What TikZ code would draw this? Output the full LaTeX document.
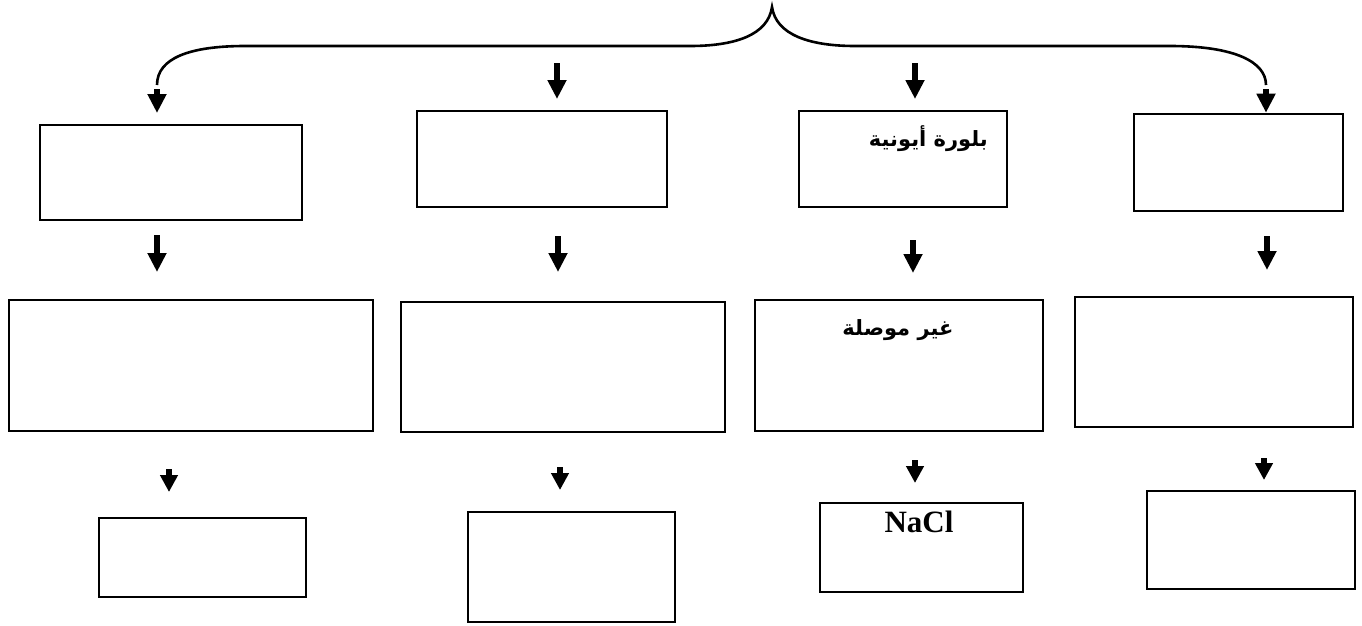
\documentclass[tikz,border=0pt]{standalone}
\usepackage{fontspec}
\setmainfont{Liberation Serif}
\newfontfamily\arabicfont[Script=Arabic]{DejaVu Sans}
\TeXXeTstate=1
\usetikzlibrary{arrows.meta}

\tikzset{
  box/.style={draw=black, line width=2.6pt, fill=white, inner sep=0pt},
  arr/.style={line width=6pt, -{Triangle[length=19pt,width=18pt]}},
  smallarr/.style={line width=6pt, -{Triangle[length=17pt,width=17pt]}},
  bracepath/.style={line width=2.6pt},
  arlabel/.style={font=\arabicfont\bfseries\fontsize{21}{25}\selectfont, inner sep=0pt},
  latlabel/.style={font=\bfseries\fontsize{31}{35}\selectfont, inner sep=0pt}
}

\begin{document}
\begin{tikzpicture}[x=1pt,y=-1pt]
\useasboundingbox (0,0) rectangle (1362,625);

% first row
\node[box, minimum width=262pt, minimum height=95pt] (a1) at (171,172.5) {};
\node[box, minimum width=250pt, minimum height=96pt] (b1) at (542,159) {};
\node[box, minimum width=208pt, minimum height=96pt] (c1) at (903,159) {};
\node[box, minimum width=209pt, minimum height=97pt] (d1) at (1238.5,162.5) {};

% second row
\node[box, minimum width=364pt, minimum height=131pt] (a2) at (191,365.5) {};
\node[box, minimum width=324pt, minimum height=130pt] (b2) at (563,367) {};
\node[box, minimum width=288pt, minimum height=131pt] (c2) at (899,365.5) {};
\node[box, minimum width=278pt, minimum height=130pt] (d2) at (1214,362) {};

% third row
\node[box, minimum width=207pt, minimum height=79pt] (a3) at (202.5,557.5) {};
\node[box, minimum width=207pt, minimum height=110pt] (b3) at (571.5,567) {};
\node[box, minimum width=203pt, minimum height=89pt] (c3) at (921.5,547.5) {};
\node[box, minimum width=208pt, minimum height=98pt] (d3) at (1251,540) {};

% texts
\node[arlabel, anchor=east] (ionic) at (988,139) {\beginR بلورة أيونية\endR};
\node[arlabel] (noncond) at (898,330) {\beginR غير موصلة\endR};
\node[latlabel] (nacl) at (919,522) {NaCl};

% brace
\coordinate (tip) at (772,7);
\coordinate (lend) at (157,85);
\coordinate (rend) at (1266,85);
\draw[bracepath] (lend) .. controls (157,58) and (190,46) .. (245,46) -- (690,46)
  .. controls (735,46) and (768,35) .. (tip)
  .. controls (776,35) and (810,46) .. (855,46) -- (1170,46)
  .. controls (1235,46) and (1266,62) .. (rend);

% arrows under the brace
\coordinate (la) at (157,89);
\coordinate (ra) at (1266,89);
\coordinate (bb) at (557,63);
\coordinate (cb) at (915,63);
\draw[arr] (la) -- (157,113);
\draw[arr] (bb) -- (557,99);
\draw[arr] (cb) -- (915,99);
\draw[arr] (ra) -- (ra |- d1.north);

% arrows to the second row
\coordinate (a12) at (157,235);
\coordinate (b12) at (558,236);
\coordinate (c12) at (913,240);
\coordinate (d12) at (1267,236);
\draw[arr] (a12) -- (157,272);
\draw[arr] (b12) -- (558,272);
\draw[arr] (c12) -- (913,273);
\draw[arr] (d12) -- (1267,270);

% arrows to the third row
\coordinate (a23) at (169,469);
\coordinate (b23) at (560,467);
\coordinate (c23) at (915,460);
\coordinate (d23) at (1264,458);
\draw[smallarr] (a23) -- (169,492);
\draw[smallarr] (b23) -- (560,490);
\draw[smallarr] (c23) -- (915,483);
\draw[smallarr] (d23) -- (1264,480);
\end{tikzpicture}
\end{document}
